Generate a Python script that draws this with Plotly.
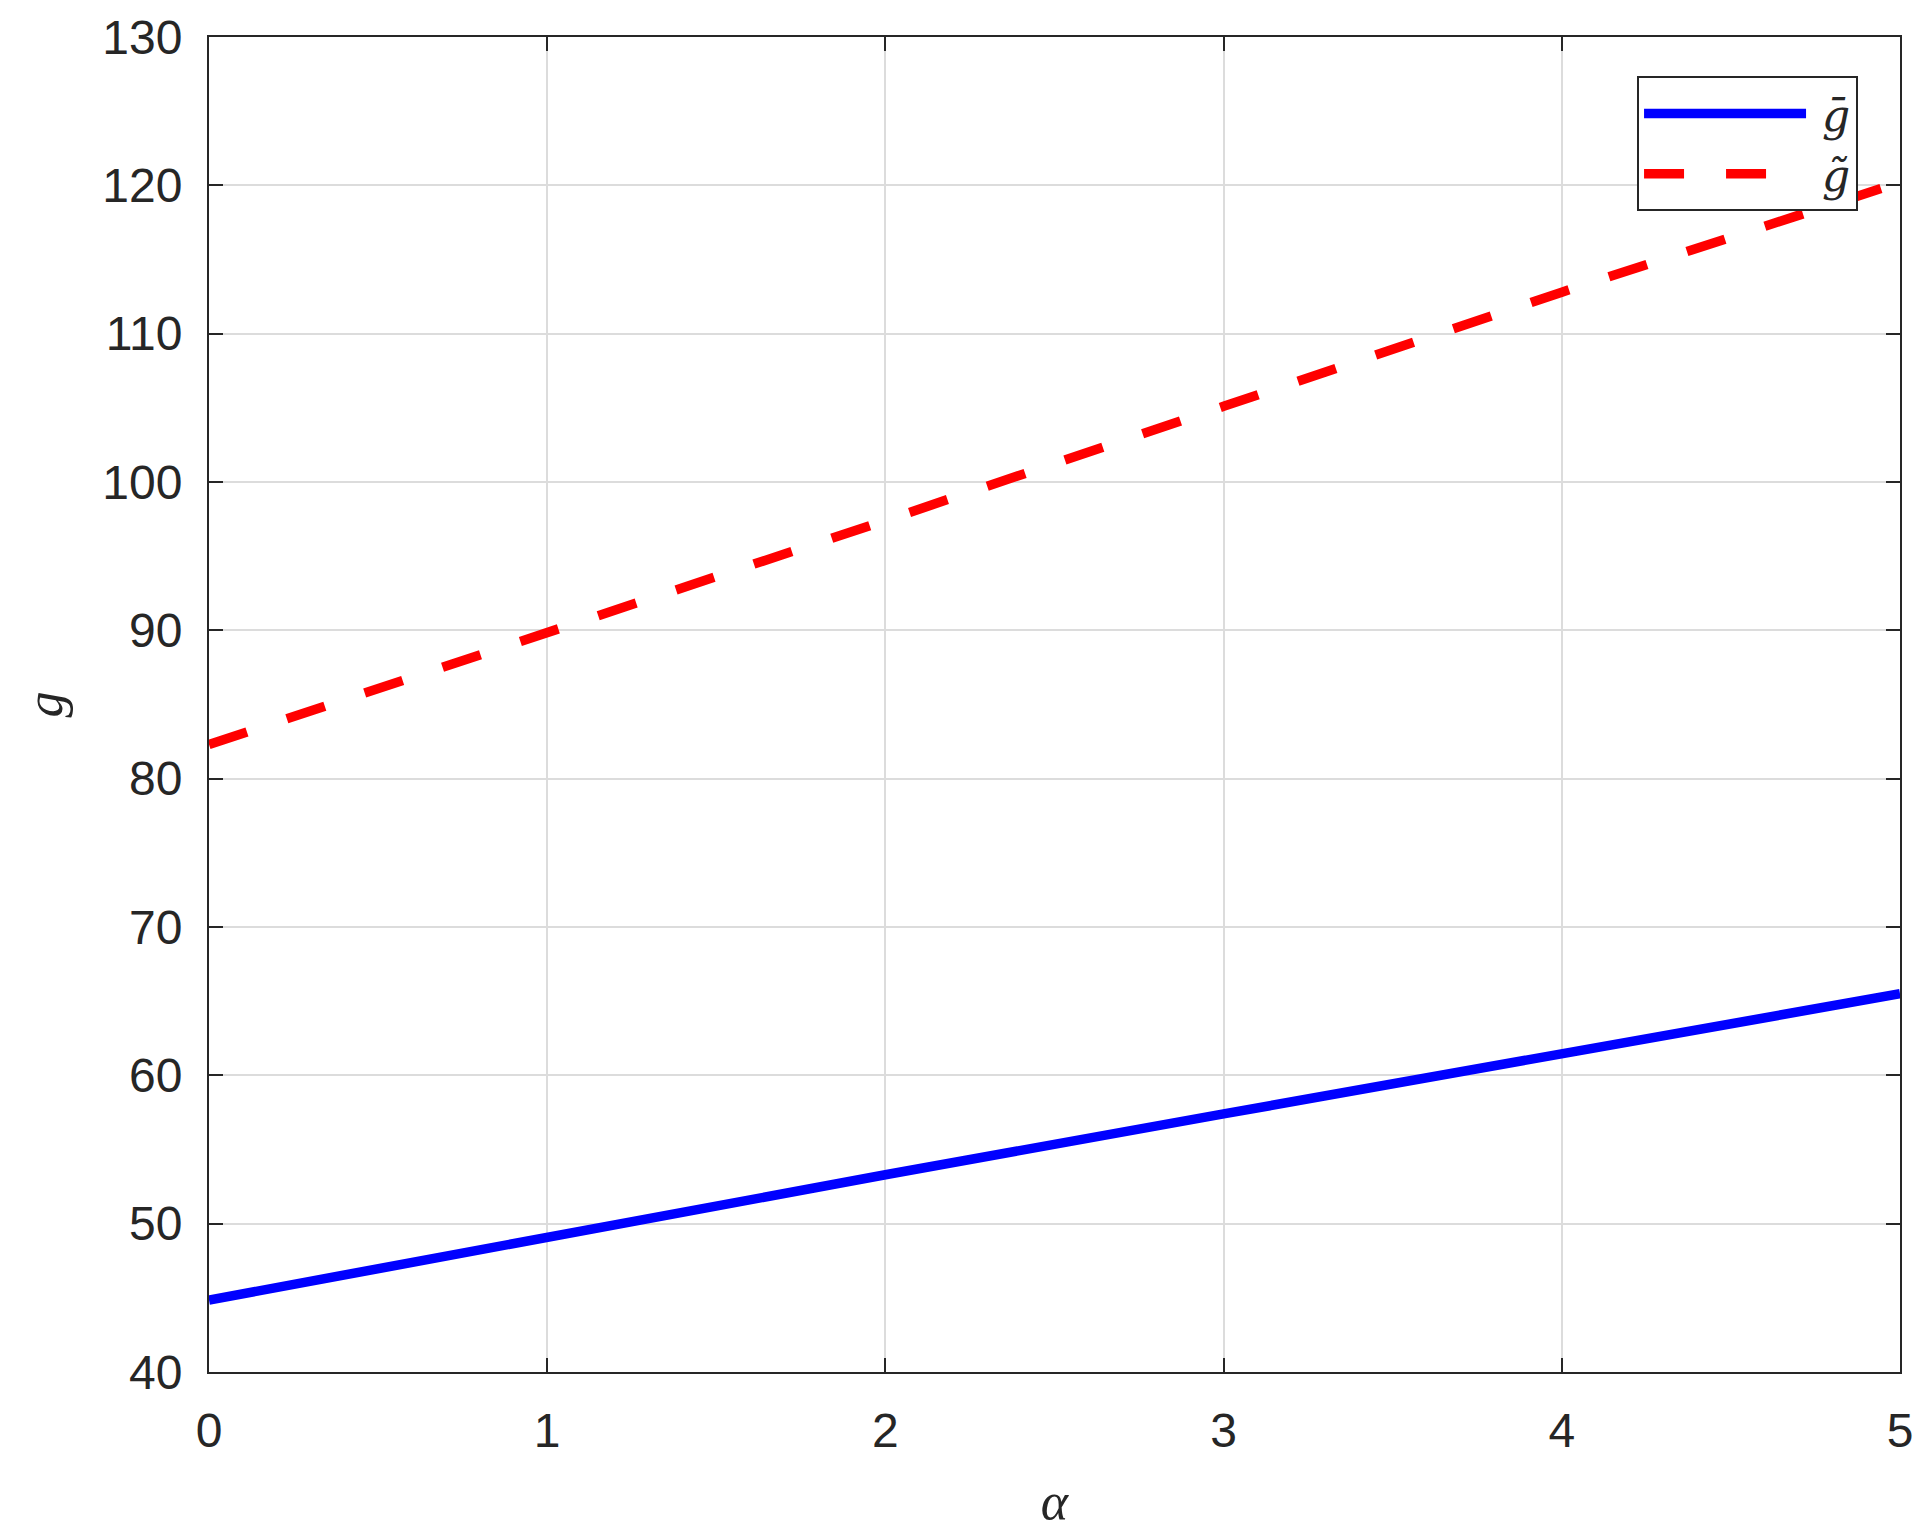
import plotly.graph_objects as go

alpha = [0, 1, 2, 3, 4, 5]
g_bar = [44.85, 49.1, 53.3, 57.4, 61.5, 65.5]
g_tilde = [82.3, 89.8, 97.4, 105.1, 112.8, 120.2]

x_ticks = [0, 1, 2, 3, 4, 5]
y_ticks = [40, 50, 60, 70, 80, 90, 100, 110, 120, 130]

AX = "#262626"
GRID = "#dcdcdc"

fig = go.Figure()
fig.add_trace(go.Scatter(x=alpha, y=g_bar, mode="lines", name="\u2005<i>ḡ</i>",
                         line=dict(color="#0000ff", width=9.5)))
fig.add_trace(go.Scatter(x=alpha, y=g_tilde, mode="lines", name="\u2005<i>g̃</i>",
                         line=dict(color="#ff0000", width=9.5, dash="40px,42px")))

axis_common = dict(showline=True, linecolor=AX, linewidth=2, mirror="ticks",
                   ticks="inside", ticklen=14, tickwidth=2, tickcolor=AX,
                   showgrid=True, gridcolor=GRID, gridwidth=1.5, zeroline=False,
                   automargin=False,
                   tickfont=dict(family="Liberation Sans, Arial", size=48, color=AX))

fig.update_xaxes(range=[0, 5], tickvals=x_ticks, ticktext=[str(v) for v in x_ticks],
                 title=dict(text="<i>α</i>", font=dict(family="Liberation Serif, serif", size=52, color=AX),
                            standoff=30),
                 ticklabelstandoff=15, **axis_common)
fig.update_yaxes(range=[40, 130], tickvals=y_ticks, ticktext=[str(v) for v in y_ticks],
                 title=dict(text="<i>g</i>", font=dict(family="Liberation Serif, serif", size=52, color=AX),
                            standoff=23),
                 ticklabelstandoff=15, **axis_common)

fig.update_layout(
    width=1914, height=1522,
    margin=dict(l=201, r=22, t=29, b=158),
    paper_bgcolor="white", plot_bgcolor="white",
    showlegend=True,
    legend=dict(x=0.8445, y=0.9705, xanchor="left", yanchor="top",
                bgcolor="white", bordercolor=AX, borderwidth=2,
                font=dict(family="DejaVu Serif, serif", size=44, color=AX),
                itemwidth=162, tracegroupgap=0),
)

fig.write_html("out.html")
